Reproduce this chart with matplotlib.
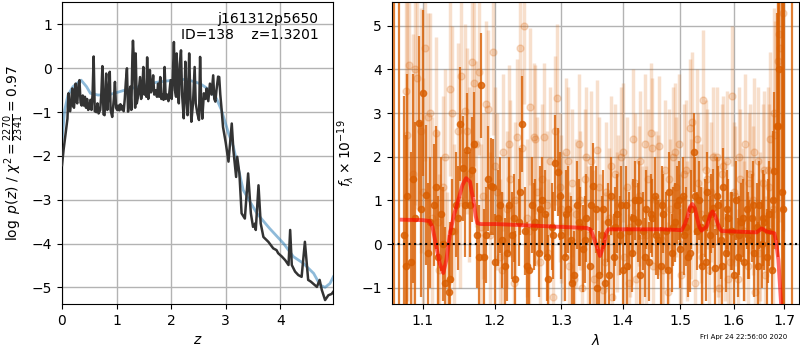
import matplotlib
matplotlib.use("Agg")
import matplotlib.pyplot as plt
from matplotlib.ticker import FixedLocator, FixedFormatter, NullLocator

# ---------------- left panel: log p(z) ----------------
z_pz = [0.00, 0.03, 0.06, 0.08, 0.10, 0.11, 0.12, 0.13, 0.15, 0.17,
        0.19, 0.20, 0.22, 0.24, 0.25, 0.26, 0.28, 0.30, 0.32, 0.34,
        0.36, 0.38, 0.40, 0.42, 0.44, 0.46, 0.48, 0.50, 0.52, 0.54,
        0.56, 0.58, 0.60, 0.63, 0.65, 0.67, 0.70, 0.72, 0.74, 0.76,
        0.78, 0.80, 0.81, 0.83, 0.86, 0.875, 0.89, 0.92, 0.95, 0.97,
        0.99, 1.01, 1.03, 1.05, 1.07, 1.09, 1.11, 1.13, 1.15, 1.17,
        1.19, 1.21, 1.23, 1.25, 1.27, 1.29, 1.30, 1.32, 1.34, 1.35,
        1.37, 1.40, 1.43, 1.45, 1.47, 1.49, 1.51, 1.53, 1.545, 1.56,
        1.58, 1.61, 1.63, 1.65, 1.67, 1.69, 1.72, 1.74, 1.76, 1.78,
        1.80, 1.82, 1.84, 1.86, 1.88, 1.90, 1.93, 1.95, 1.97, 1.99,
        2.01, 2.03, 2.05, 2.07, 2.09, 2.10, 2.12, 2.14, 2.16, 2.18,
        2.20, 2.23, 2.25, 2.26, 2.28, 2.30, 2.33, 2.35, 2.37, 2.40,
        2.43, 2.45, 2.48, 2.51, 2.53, 2.55, 2.57, 2.60, 2.63, 2.65,
        2.68, 2.71, 2.74, 2.77, 2.79, 2.81, 2.83, 2.86, 2.88, 2.90,
        2.92, 2.95, 3.00, 3.05, 3.11, 3.14, 3.19, 3.21, 3.25, 3.29,
        3.35, 3.41, 3.46, 3.50, 3.54, 3.55, 3.60, 3.64, 3.69, 3.78,
        3.87, 3.93, 3.96, 4.03, 4.09, 4.15, 4.18, 4.21, 4.27, 4.33,
        4.39, 4.45, 4.51, 4.56, 4.67, 4.72, 4.76, 4.82, 4.88, 4.94,
        4.97]
logpz = [-2.21, -1.85, -1.55, -1.35, -1.15, -0.80, -0.57, -0.95, -0.98, -0.70,
         -0.46, -0.85, -0.90, -0.55, -0.35, -0.75, -0.80, -0.40, -0.27, -0.78,
         -0.85, -0.62, -0.85, -0.65, -0.90, -0.70, -0.95, -0.90, -0.72, -0.95,
         -0.60, 0.27, -0.98, -1.00, -0.80, -1.03, -0.95, -0.60, 0.05, -1.05,
         -1.07, -0.30, -0.12, -0.95, -0.40, -0.08, -0.95, -1.11, -0.70, -0.31,
         -0.90, -0.95, -0.85, -0.96, -0.82, -0.94, -0.86, -0.98, -0.70, -0.30,
         0.00, -0.99, -0.80, -0.42, -0.95, 0.30, 0.63, 0.10, -0.90, 0.34,
         -0.80, -0.60, -0.20, -0.70, -0.50, 0.03, -0.60, -0.45, -0.65, 0.25,
         -0.70, -0.04, -0.55, -0.45, -0.16, -0.60, -0.50, -0.65, -0.35, -0.65,
         -0.20, -0.70, -0.60, -0.72, 0.03, -0.70, -0.60, -0.75, -0.50, -0.27,
         -0.70, -0.20, 0.60, -0.50, -0.65, 0.34, -0.30, -0.80, 0.10, 0.41,
         -0.60, -1.14, -0.40, 0.15, -0.70, -1.07, 0.34, -0.60, -1.22, -0.80,
         0.03, -0.80, -1.03, -1.18, 0.26, -0.80, -1.15, -0.57, -0.70, -0.46,
         -0.75, -0.35, -0.60, -0.16, -0.70, -0.76, -0.50, -0.19, -0.20, -0.60,
         -0.88, -1.34, -1.70, -2.13, -1.26, -1.87, -2.48, -2.02, -2.40, -3.31,
         -3.43, -2.40, -3.31, -3.62, -3.54, -3.69, -2.67, -3.54, -3.85, -3.96,
         -4.11, -4.15, -4.22, -4.30, -4.38, -4.49, -3.69, -4.49, -4.64, -4.72,
         -4.76, -3.96, -4.83, -4.87, -4.99, -4.83, -5.06, -5.29, -5.18, -5.15,
         -5.10]

z_chi2 = [0.00, 0.05, 0.11, 0.20, 0.35, 0.45, 0.52, 0.66, 0.87, 1.12,
          1.43, 1.73, 2.04, 2.28, 2.53, 2.71, 2.83, 2.92, 3.05, 3.14,
          3.32, 3.57, 3.80, 4.06, 4.24, 4.42, 4.61, 4.73, 4.82, 4.91,
          4.97]
chi2_curve = [-1.64, -0.95, -0.61, -0.42, -0.27, -0.42, -0.57, -0.61, -0.60, -0.51,
              -0.41, -0.32, -0.27, -0.25, -0.35, -0.50, -0.69, -0.95, -1.48, -1.79,
              -2.78, -3.31, -3.65, -4.00, -4.30, -4.45, -4.68, -4.95, -5.00, -4.91,
              -4.76]

# ---------------- right panel: spectrum ----------------
wave_dark = [1.063, 1.069,
             1.075, 1.080, 1.085, 1.090, 1.095, 1.100, 1.105, 1.110, 1.115, 1.120,
             1.125, 1.130, 1.135, 1.140, 1.145, 1.150, 1.155, 1.160, 1.165, 1.170,
             1.175, 1.180, 1.185, 1.190, 1.195, 1.200, 1.205, 1.210, 1.215, 1.220,
             1.225, 1.230, 1.235, 1.240, 1.245, 1.250, 1.255, 1.260, 1.265, 1.270,
             1.275, 1.280, 1.285, 1.290, 1.295, 1.300, 1.305, 1.310, 1.315, 1.320,
             1.325, 1.330, 1.335, 1.340, 1.345, 1.350, 1.355, 1.360, 1.365, 1.370,
             1.375, 1.380, 1.385, 1.390, 1.395, 1.400, 1.405, 1.410, 1.415, 1.420,
             1.425, 1.430, 1.435, 1.440, 1.445, 1.450, 1.455, 1.460, 1.465, 1.470,
             1.475, 1.480, 1.485, 1.490, 1.495, 1.500, 1.505, 1.510, 1.515, 1.520,
             1.525, 1.530, 1.535, 1.540, 1.545, 1.550, 1.555, 1.560, 1.565, 1.570,
             1.575, 1.580, 1.585, 1.590, 1.595, 1.600, 1.605, 1.610, 1.615, 1.620,
             1.625, 1.630, 1.635, 1.640, 1.645, 1.650, 1.655, 1.660, 1.665, 1.670,
             1.675, 1.680, 1.685, 1.690, 1.695,
             1.701, 1.716]
flux_dark = [8.0, 8.0,
             0.2, 1.1, -0.4, 0.6, 2.77, 3.45, 1.13, 0.5, 0.9, -0.3,
             0.69, -0.9, -1.1, 0.3, 0.9, 2.75, 1.74, 2.16, 0.9, 2.29,
             0.2, 3.64, -0.3, 1.5, 1.32, -0.4, 0.6, 0.1, -0.5, 0.9,
             0.2, -0.8, 0.5, 2.75, 0.3, -0.6, 0.9, 0.5, -0.2, 1.0,
             0.7, -0.8, 0.4, 1.85, 1.65, 0.2, -0.3, 0.8, 0.1, -0.7,
             0.9, 0.4, -0.1, 0.6, -0.5, 1.32, 0.8, -0.7, 0.2, -0.9,
             0.5, 1.1, -0.3, 0.7, 0.2, -0.6, 0.9, 0.3, -0.2, 1.0,
             0.5, -0.7, 0.3, 0.8, -0.4, 0.6, 1.1, 0.1, -0.5, 0.7,
             0.3, 1.2, -0.2, 0.5, 0.9, -0.1, 1.1, 0.4, -0.3, 0.8,
             2.1, 0.3, 1.0, -0.5, 0.6, 1.2, 0.2, 0.82, -0.55, 0.9,
             0.1, 1.3, -0.2, 0.6, 0.3, -0.7, 1.0, 0.2, 0.5, -0.4,
             0.8, 0.1, 0.6, -0.2, 0.4, 0.9, 0.0, 0.5, -0.3, 0.7,
             -0.59, 1.68, 2.7, 4.0, 1.2,
             8.0, 8.0]
err_dark = [12.0, 12.0,
            3.2, 2.8, 2.5, 2.2, 2.0, 1.9, 1.6, 1.5, 1.4, 1.4,
            1.3, 1.3, 1.3, 1.2, 1.2, 1.3, 1.2, 1.3, 1.2, 1.2,
            1.2, 1.2, 1.1, 1.2, 1.1, 1.1, 1.1, 1.1, 1.1, 1.1,
            1.0, 1.1, 1.0, 1.1, 1.0, 1.0, 1.1, 1.0, 1.0, 1.0,
            1.0, 1.0, 1.0, 1.1, 1.0, 1.0, 1.0, 1.0, 1.0, 1.0,
            1.0, 0.9, 1.0, 1.0, 0.9, 1.0, 1.0, 1.0, 0.9, 1.0,
            0.9, 0.9, 1.0, 0.9, 0.9, 0.9, 0.9, 0.9, 0.9, 0.9,
            0.9, 0.9, 0.9, 0.9, 0.9, 0.9, 0.9, 0.9, 0.9, 0.9,
            0.9, 0.9, 0.9, 0.9, 0.9, 0.9, 0.9, 0.9, 0.9, 0.9,
            0.9, 0.9, 0.9, 0.9, 0.9, 0.9, 0.9, 0.9, 0.9, 0.9,
            0.9, 0.9, 0.9, 0.9, 0.9, 0.9, 0.9, 0.9, 0.9, 0.9,
            0.9, 0.9, 1.0, 1.0, 1.0, 1.0, 1.0, 1.1, 1.1, 1.2,
            1.4, 1.8, 2.6, 4.0, 6.0,
            12.0, 12.0]

wave_dark2 = [1.0775, 1.0875, 1.0975, 1.1075, 1.1175, 1.1275, 1.1375, 1.1475, 1.1575, 1.1675,
              1.1775, 1.1875, 1.1975, 1.2075, 1.2175, 1.2275, 1.2375, 1.2475, 1.2575, 1.2675,
              1.2775, 1.2875, 1.2975, 1.3075, 1.3175, 1.3275, 1.3375, 1.3475, 1.3575, 1.3675,
              1.3775, 1.3875, 1.3975, 1.4075, 1.4175, 1.4275, 1.4375, 1.4475, 1.4575, 1.4675,
              1.4775, 1.4875, 1.4975, 1.5075, 1.5175, 1.5275, 1.5375, 1.5475, 1.5575, 1.5675,
              1.5775, 1.5875, 1.5975, 1.6075, 1.6175, 1.6275, 1.6375, 1.6475, 1.6575, 1.6675,
              1.6775, 1.6875, 1.6975]
flux_dark2 = [-0.5, 1.5, 0.8, -0.2, 1.3, 0.0, -0.8, 0.6, 0.9, 1.7,
              -0.3, 0.2, 1.3, 0.9, -0.2, 0.6, 1.2, -0.5, 0.4, 0.8,
              -0.3, 0.2, 1.1, 0.7, -0.9, 0.5, 0.1, 0.9, -1.0, 0.8,
              -0.7, 0.4, 0.9, -0.5, 0.6, 1.0, -0.3, 0.7, 0.2, 0.9,
              -0.6, 0.4, 1.0, 0.2, -0.2, 1.1, 0.4, -0.4, 0.7, 1.1,
              -0.5, 0.8, 0.3, -0.3, 0.6, 0.2, 0.9, -0.5, 0.6, 0.3,
              1.0, 2.7, 0.8]
err_dark2 = [3.0, 2.4, 2.0, 1.6, 1.4, 1.3, 1.3, 1.2, 1.2, 1.2,
             1.2, 1.1, 1.1, 1.1, 1.1, 1.0, 1.0, 1.0, 1.0, 1.0,
             1.0, 1.0, 1.0, 1.0, 1.0, 1.0, 1.0, 0.9, 0.9, 0.9,
             0.9, 0.9, 0.9, 0.9, 0.9, 0.9, 0.9, 0.9, 0.9, 0.9,
             0.9, 0.9, 0.9, 0.9, 0.9, 0.9, 0.9, 0.9, 0.9, 0.9,
             0.9, 0.9, 0.9, 0.9, 0.9, 1.0, 1.0, 1.0, 1.1, 1.2,
             1.6, 3.0, 6.0]

wave_light = [1.0775, 1.0825, 1.0875, 1.0925, 1.0975, 1.1025, 1.1075, 1.1125, 1.1175, 1.1225,
              1.1275, 1.1325, 1.1375, 1.1425, 1.1475, 1.1525, 1.1575, 1.1625, 1.1675, 1.1725,
              1.1775, 1.1825, 1.1875, 1.1925, 1.1975, 1.2025, 1.2075, 1.2125, 1.2175, 1.2225,
              1.2275, 1.2325, 1.2375, 1.2425, 1.2475, 1.2525, 1.2575, 1.2625, 1.2675, 1.2725,
              1.2775, 1.2825, 1.2875, 1.2925, 1.2975, 1.3025, 1.3075, 1.3125, 1.3175, 1.3225,
              1.3275, 1.3325, 1.3375, 1.3425, 1.3475, 1.3525, 1.3575, 1.3625, 1.3675, 1.3725,
              1.3775, 1.3825, 1.3875, 1.3925, 1.3975, 1.4025, 1.4075, 1.4125, 1.4175, 1.4225,
              1.4275, 1.4325, 1.4375, 1.4425, 1.4475, 1.4525, 1.4575, 1.4625, 1.4675, 1.4725,
              1.4775, 1.4825, 1.4875, 1.4925, 1.4975, 1.5025, 1.5075, 1.5125, 1.5175, 1.5225,
              1.5275, 1.5325, 1.5375, 1.5425, 1.5475, 1.5525, 1.5575, 1.5625, 1.5675, 1.5725,
              1.5775, 1.5825, 1.5875, 1.5925, 1.5975, 1.6025, 1.6075, 1.6125, 1.6175, 1.6225,
              1.6275, 1.6325, 1.6375, 1.6425, 1.6475, 1.6525, 1.6575, 1.6625, 1.6675, 1.6725,
              1.6775, 1.6825, 1.6875, 1.6925, 1.6975]
flux_light = [3.5, 4.1, 1.6, 3.8, 2.6, 4.5, 2.9, 0.6, 2.55, -0.6,
              1.3, -0.9, 3.55, 0.3, 2.6, 3.85, 3.05, 1.6, 4.17, 2.3,
              3.95, 1.1, 3.2, 0.2, 4.4, 1.2, -0.3, 2.1, 0.8, 1.5,
              -0.9, 2.45, 4.5, 5.0, 0.6, 3.15, 2.45, 1.2, -0.4, 2.45,
              0.9, 1.9, -1.2, 3.35, 1.3, 0.4, 2.1, -0.5, 1.4, 0.7,
              2.3, -1.0, 1.5, 0.2, 1.9, -0.8, 2.15, 0.0, -1.05, 1.2,
              0.6, -1.2, 1.6, 0.9, 2.0, -0.3, 1.3, 0.4, 2.4, -0.8,
              1.1, 0.2, 2.3, 1.5, 2.55, -0.5, 1.0, 2.25, 0.1, 1.7,
              -1.1, 0.8, 2.0, 1.3, 2.3, -0.7, 1.6, 0.3, 2.65, 2.8,
              -0.9, 1.4, 0.7, 3.3, 1.7, -0.6, 1.2, 0.5, 2.0, -1.0,
              1.6, 0.3, 1.9, -0.4, 3.4, 1.1, -0.8, 1.5, 0.6, 2.3,
              -0.5, 1.6, 1.0, -1.1, 1.9, 0.4, 1.4, -0.7, 1.7, 2.4,
              0.8, 2.5, 4.2, 4.5, 5.3]
err_light = [4.0, 3.6, 3.2, 3.0, 2.8, 2.6, 2.4, 2.3, 2.2, 2.2,
             2.1, 2.1, 2.0, 2.0, 2.0, 2.0, 2.0, 2.0, 2.0, 1.9,
             1.9, 1.9, 1.9, 1.9, 1.9, 1.8, 1.8, 1.8, 1.8, 1.8,
             1.8, 1.8, 1.8, 1.8, 1.8, 1.8, 1.7, 1.7, 1.7, 1.7,
             1.7, 1.7, 1.7, 1.7, 1.7, 1.7, 1.7, 1.7, 1.7, 1.7,
             1.6, 1.6, 1.6, 1.6, 1.6, 1.6, 1.6, 1.6, 1.6, 1.6,
             1.6, 1.6, 1.6, 1.6, 1.6, 1.6, 1.6, 1.6, 1.6, 1.6,
             1.6, 1.6, 1.6, 1.6, 1.6, 1.6, 1.6, 1.6, 1.6, 1.6,
             1.6, 1.6, 1.6, 1.6, 1.6, 1.6, 1.6, 1.6, 1.6, 1.6,
             1.6, 1.6, 1.6, 1.6, 1.6, 1.6, 1.6, 1.6, 1.6, 1.6,
             1.6, 1.6, 1.6, 1.6, 1.6, 1.6, 1.6, 1.6, 1.6, 1.6,
             1.6, 1.6, 1.7, 1.7, 1.7, 1.7, 1.8, 1.8, 1.9, 2.0,
             2.2, 2.6, 3.2, 4.0, 5.0]

wave_light2 = [1.080, 1.090, 1.100, 1.110, 1.120, 1.130, 1.140, 1.150, 1.160, 1.170,
               1.180, 1.190, 1.200, 1.210, 1.220, 1.230, 1.240, 1.250, 1.260, 1.270,
               1.280, 1.290, 1.300, 1.310, 1.320, 1.330, 1.340, 1.350, 1.360, 1.370,
               1.380, 1.390, 1.400, 1.410, 1.420, 1.430, 1.440, 1.450, 1.460, 1.470,
               1.480, 1.490, 1.500, 1.510, 1.520, 1.530, 1.540, 1.550, 1.560, 1.570,
               1.580, 1.590, 1.600, 1.610, 1.620, 1.630, 1.640, 1.650, 1.660, 1.670,
               1.680, 1.690]
flux_light2 = [2.5, 4.0, 1.2, 3.0, 0.5, 2.0, 3.0, 1.0, 2.6, 3.7,
               0.4, 3.1, 1.8, -0.6, 2.3, 1.0, 2.2, 0.3, 2.4, 1.5,
               -0.2, 2.6, 0.8, 1.9, -0.8, 1.0, 2.0, 0.1, 1.3, -0.4,
               1.8, 0.5, 2.1, -0.9, 1.4, 1.9, 0.2, 2.2, 0.9, -0.6,
               1.5, 2.1, 0.0, 1.7, 0.8, 2.4, -0.3, 1.5, 2.0, 0.4,
               1.8, -0.8, 1.2, 2.0, 0.3, 1.4, 2.1, -0.2, 1.7, 1.3,
               3.0, 4.8]
err_light2 = [3.8, 3.1, 2.6, 2.3, 2.1, 2.0, 2.0, 2.0, 1.9, 1.9,
              1.9, 1.8, 1.8, 1.8, 1.8, 1.8, 1.8, 1.7, 1.7, 1.7,
              1.7, 1.7, 1.7, 1.7, 1.7, 1.6, 1.6, 1.6, 1.6, 1.6,
              1.6, 1.6, 1.6, 1.6, 1.6, 1.6, 1.6, 1.6, 1.6, 1.6,
              1.6, 1.6, 1.6, 1.6, 1.6, 1.6, 1.6, 1.6, 1.6, 1.6,
              1.6, 1.6, 1.6, 1.6, 1.6, 1.6, 1.7, 1.7, 1.8, 1.9,
              2.4, 3.6]

wave_model = [1.0725, 1.100, 1.109, 1.113, 1.1178, 1.123, 1.1277, 1.132, 1.1368, 1.142,
              1.1483, 1.154, 1.159, 1.1645, 1.167, 1.170, 1.1725, 1.175, 1.180, 1.2026,
              1.3403, 1.3468, 1.351, 1.355, 1.362, 1.3686, 1.372, 1.3758, 1.470, 1.5028,
              1.5085, 1.5132, 1.518, 1.5223, 1.527, 1.5303, 1.535, 1.5394, 1.5488, 1.555,
              1.560, 1.5645, 1.5688, 1.573, 1.577, 1.645, 1.6549, 1.6649, 1.6804, 1.684,
              1.6886, 1.6953]
flux_model = [0.56, 0.55, 0.53, 0.40, -0.02, -0.45, -0.66, -0.35, 0.25, 0.65,
              1.01, 1.35, 1.51, 1.43, 1.20, 0.94, 0.65, 0.48, 0.46, 0.46,
              0.37, 0.33, 0.18, 0.02, -0.27, -0.02, 0.25, 0.34, 0.34, 0.32,
              0.45, 0.63, 0.85, 0.92, 0.82, 0.63, 0.40, 0.31, 0.40, 0.65,
              0.75, 0.65, 0.50, 0.36, 0.30, 0.27, 0.36, 0.29, 0.25, 0.05,
              -0.36, -1.6]

xticks_right = [1.1, 1.2, 1.3, 1.4, 1.5, 1.6, 1.7]
xtick_labels_right = ['1.1', '1.2', '1.3', '1.4', '1.5', '1.6', '1.7']

orange = '#d95f02'

fig = plt.figure(figsize=(8, 3.5), dpi=100)
ax1 = fig.add_axes([0.0775, 0.1314, 0.3391, 0.8637])
ax2 = fig.add_axes([0.4896, 0.1314, 0.5095, 0.8637])

# left
ax1.plot(z_chi2, chi2_curve, color='#1f77b4', alpha=0.5, lw=2, zorder=2)
ax1.plot(z_pz, logpz, color='0.2', lw=1.8, zorder=3)
ax1.set_xlim(0, 4.97)
ax1.set_ylim(-5.38, 1.52)
ax1.set_xticks([0, 1, 2, 3, 4])
ax1.set_yticks([-5, -4, -3, -2, -1, 0, 1])
ax1.grid(True, color='0.7', lw=1)
ax1.set_axisbelow(True)
ax1.set_xlabel(r'$z$')
ax1.set_ylabel(r'$\log\ p(z)$ / $\chi^2=\frac{2270}{2341}=0.97$')
ax1.text(0.945, 0.965, 'j161312p5650\nID=138    z=1.3201', ha='right', va='top',
         transform=ax1.transAxes, fontsize=10)

# right
for w, f, e in [(wave_light, flux_light, err_light), (wave_light2, flux_light2, err_light2)]:
    ax2.errorbar(w, f, yerr=e, fmt='o', color=orange, alpha=0.2,
                 ms=5, elinewidth=2.5, capsize=0, zorder=1)
for w, f, e in [(wave_dark, flux_dark, err_dark), (wave_dark2, flux_dark2, err_dark2)]:
    ax2.errorbar(w, f, yerr=e, fmt='o', color=orange, alpha=0.8,
                 ms=4.5, elinewidth=1.6, capsize=0, zorder=2)
ax2.plot(wave_model, flux_model, color='red', alpha=0.6, lw=2.8, zorder=4)
ax2.axhline(0, color='k', ls=':', lw=1.5, zorder=5)
ax2.set_xscale('log')
ax2.set_xlim(1.0597, 1.7316)
ax2.set_ylim(-1.37, 5.55)
ax2.xaxis.set_major_locator(FixedLocator(xticks_right))
ax2.xaxis.set_major_formatter(FixedFormatter(xtick_labels_right))
ax2.xaxis.set_minor_locator(NullLocator())
ax2.set_yticks([-1, 0, 1, 2, 3, 4, 5])
ax2.grid(True, color='0.7', lw=1)
ax2.set_axisbelow(True)
ax2.set_xlabel(r'$\lambda$')
ax2.set_ylabel(r'$f_\lambda \times 10^{-19}$')

fig.text(0.984, 0.028, 'Fri Apr 24 22:56:00 2020', ha='right', va='bottom', fontsize=5)

fig.savefig('out.png', dpi=100)
